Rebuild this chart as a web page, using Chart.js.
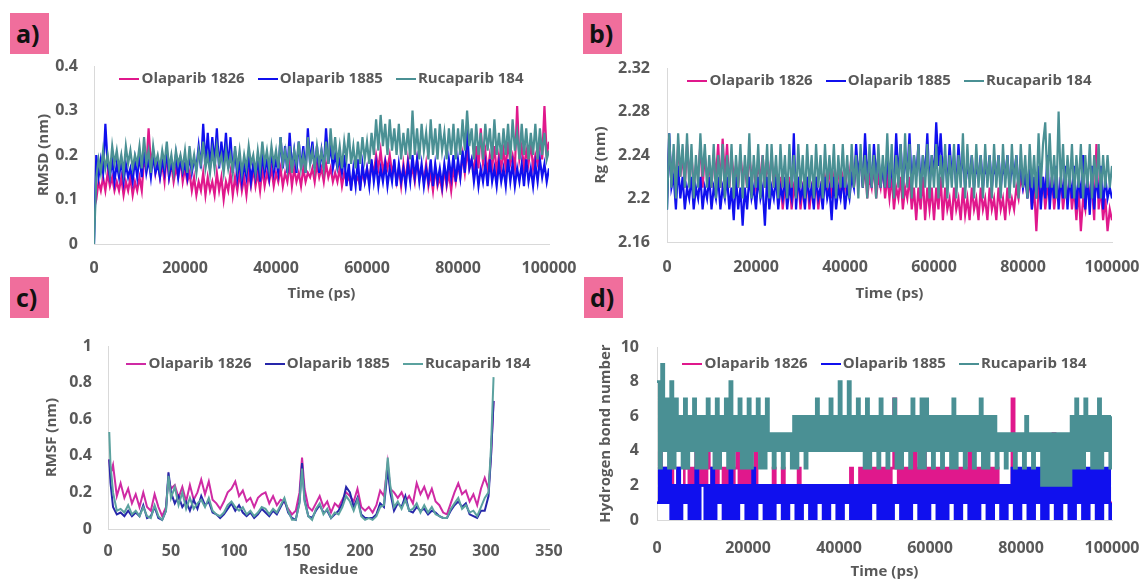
<!DOCTYPE html>
<html>
<head>
<meta charset="utf-8">
<script src="https://cdn.jsdelivr.net/npm/chart.js@4.4.1/dist/chart.umd.min.js"></script>
<style>
  body { margin: 0; width: 1141px; height: 579px; background: #fff; position: relative; overflow: hidden; font-family: 'Open Sans', sans-serif; }
  canvas { position: absolute; }
  .tag { position: absolute; width: 39px; height: 41px; background: #f06e9c; color: #111; font: bold 25px 'Open Sans', sans-serif; line-height: 40px; padding-left: 6px; box-sizing: border-box; }
  .legend { position: absolute; height: 20px; display: flex; justify-content: center; align-items: center; gap: 13px; font: bold 15px 'Open Sans', sans-serif; color: #595959; white-space: nowrap; }
  .legend .mk { display: inline-block; width: 20px; height: 2px; margin-right: 2px; vertical-align: middle; }
</style>
</head>
<body>
<div class="tag" style="left:10px;top:13px">a)</div>
<div class="tag" style="left:583px;top:13px">b)</div>
<div class="tag" style="left:10px;top:277px">c)</div>
<div class="tag" style="left:584px;top:277px">d)</div>
<canvas id="rmsdChart"></canvas>
<canvas id="rgChart"></canvas>
<canvas id="rmsfChart"></canvas>
<canvas id="hbondChart"></canvas>
<script>
// Nama seri (urutan legenda)
const seriesNames = ['Olaparib 1826', 'Olaparib 1885', 'Rucaparib 184'];

// Sampel waktu tiap 500 ps (0 - 100000 ps)
const sampleStepPs = 500;
const timeTickValues = [0, 20000, 40000, 60000, 80000, 100000];

// a) RMSD (nm)
const rmsdTicks = [0, 0.1, 0.2, 0.3, 0.4];
const rmsdOla1826 = [
  0.08, 0.10, 0.14, 0.12, 0.15, 0.12, 0.16, 0.13, 0.15, 0.12, 0.14, 0.12, 0.15, 0.11, 0.14, 0.12, 0.15, 0.11, 0.14, 0.12,
  0.15, 0.12, 0.19, 0.17, 0.26, 0.18, 0.21, 0.16, 0.19, 0.15, 0.18, 0.14, 0.20, 0.15, 0.18, 0.14, 0.17, 0.15, 0.19, 0.14,
  0.17, 0.14, 0.16, 0.12, 0.15, 0.11, 0.14, 0.12, 0.16, 0.11, 0.15, 0.12, 0.14, 0.11, 0.16, 0.12, 0.15, 0.10, 0.14, 0.12,
  0.16, 0.11, 0.15, 0.12, 0.16, 0.12, 0.15, 0.11, 0.16, 0.13, 0.17, 0.13, 0.16, 0.12, 0.17, 0.13, 0.16, 0.14, 0.17, 0.13,
  0.16, 0.14, 0.17, 0.13, 0.16, 0.14, 0.18, 0.13, 0.17, 0.14, 0.16, 0.13, 0.17, 0.14, 0.16, 0.15, 0.17, 0.14, 0.18, 0.15,
  0.17, 0.14, 0.18, 0.15, 0.17, 0.14, 0.16, 0.14, 0.17, 0.13, 0.16, 0.14, 0.15, 0.13, 0.16, 0.14, 0.15, 0.13, 0.16, 0.14,
  0.17, 0.14, 0.18, 0.16, 0.20, 0.17, 0.21, 0.16, 0.19, 0.17, 0.20, 0.16, 0.18, 0.14, 0.17, 0.13, 0.18, 0.14, 0.19, 0.15,
  0.17, 0.14, 0.19, 0.15, 0.17, 0.14, 0.18, 0.13, 0.16, 0.12, 0.17, 0.13, 0.15, 0.12, 0.17, 0.13, 0.16, 0.12, 0.17, 0.14,
  0.18, 0.15, 0.20, 0.16, 0.21, 0.17, 0.19, 0.16, 0.22, 0.17, 0.26, 0.18, 0.21, 0.16, 0.20, 0.17, 0.22, 0.16, 0.20, 0.17,
  0.21, 0.17, 0.23, 0.18, 0.20, 0.17, 0.31, 0.19, 0.22, 0.17, 0.21, 0.18, 0.23, 0.17, 0.20, 0.18, 0.24, 0.19, 0.31, 0.20,
  0.23
];
const rmsdOla1885 = [
  0.00, 0.20, 0.15, 0.19, 0.16, 0.27, 0.18, 0.15, 0.19, 0.14, 0.18, 0.15, 0.19, 0.14, 0.18, 0.15, 0.17, 0.14, 0.19, 0.15,
  0.20, 0.15, 0.21, 0.16, 0.19, 0.15, 0.20, 0.16, 0.18, 0.15, 0.19, 0.16, 0.21, 0.15, 0.18, 0.16, 0.20, 0.15, 0.19, 0.16,
  0.18, 0.15, 0.20, 0.16, 0.19, 0.17, 0.22, 0.17, 0.27, 0.18, 0.25, 0.17, 0.24, 0.18, 0.26, 0.17, 0.23, 0.18, 0.25, 0.17,
  0.24, 0.16, 0.21, 0.15, 0.19, 0.14, 0.18, 0.15, 0.20, 0.14, 0.18, 0.15, 0.19, 0.14, 0.20, 0.16, 0.19, 0.15, 0.21, 0.16,
  0.19, 0.16, 0.24, 0.17, 0.22, 0.16, 0.25, 0.17, 0.21, 0.16, 0.23, 0.17, 0.22, 0.16, 0.26, 0.18, 0.23, 0.17, 0.22, 0.16,
  0.21, 0.17, 0.26, 0.18, 0.22, 0.17, 0.20, 0.17, 0.19, 0.16, 0.20, 0.13, 0.18, 0.12, 0.17, 0.13, 0.19, 0.12, 0.18, 0.14,
  0.17, 0.13, 0.19, 0.14, 0.18, 0.13, 0.17, 0.14, 0.18, 0.13, 0.17, 0.14, 0.19, 0.13, 0.18, 0.14, 0.17, 0.13, 0.18, 0.14,
  0.20, 0.15, 0.19, 0.14, 0.18, 0.13, 0.17, 0.14, 0.19, 0.13, 0.18, 0.14, 0.17, 0.13, 0.18, 0.14, 0.19, 0.15, 0.20, 0.14,
  0.19, 0.15, 0.21, 0.16, 0.26, 0.17, 0.19, 0.14, 0.18, 0.13, 0.17, 0.14, 0.18, 0.13, 0.19, 0.14, 0.17, 0.13, 0.18, 0.14,
  0.17, 0.13, 0.19, 0.14, 0.18, 0.13, 0.17, 0.14, 0.18, 0.13, 0.19, 0.14, 0.17, 0.13, 0.18, 0.14, 0.19, 0.15, 0.18, 0.14,
  0.17
];
const rmsdRuca184 = [
  0.00, 0.15, 0.19, 0.16, 0.21, 0.17, 0.20, 0.16, 0.22, 0.18, 0.21, 0.17, 0.20, 0.16, 0.22, 0.18, 0.21, 0.17, 0.20, 0.18,
  0.22, 0.17, 0.24, 0.18, 0.21, 0.16, 0.22, 0.18, 0.20, 0.17, 0.21, 0.18, 0.23, 0.17, 0.20, 0.16, 0.21, 0.18, 0.20, 0.17,
  0.21, 0.16, 0.22, 0.17, 0.20, 0.16, 0.21, 0.18, 0.23, 0.17, 0.20, 0.16, 0.21, 0.17, 0.22, 0.18, 0.20, 0.16, 0.21, 0.17,
  0.20, 0.16, 0.22, 0.17, 0.21, 0.16, 0.20, 0.17, 0.22, 0.18, 0.20, 0.16, 0.21, 0.17, 0.23, 0.18, 0.21, 0.17, 0.22, 0.18,
  0.21, 0.17, 0.24, 0.18, 0.21, 0.17, 0.22, 0.16, 0.21, 0.18, 0.23, 0.17, 0.20, 0.16, 0.24, 0.18, 0.21, 0.17, 0.22, 0.18,
  0.21, 0.17, 0.23, 0.18, 0.26, 0.19, 0.24, 0.18, 0.22, 0.17, 0.23, 0.19, 0.25, 0.18, 0.22, 0.17, 0.23, 0.18, 0.24, 0.19,
  0.23, 0.18, 0.25, 0.20, 0.28, 0.21, 0.29, 0.22, 0.27, 0.20, 0.28, 0.21, 0.26, 0.20, 0.27, 0.19, 0.25, 0.20, 0.26, 0.19,
  0.30, 0.20, 0.26, 0.19, 0.27, 0.21, 0.25, 0.19, 0.28, 0.20, 0.26, 0.19, 0.27, 0.21, 0.25, 0.19, 0.26, 0.20, 0.27, 0.19,
  0.26, 0.20, 0.28, 0.21, 0.30, 0.22, 0.26, 0.19, 0.27, 0.20, 0.25, 0.19, 0.27, 0.21, 0.26, 0.19, 0.28, 0.20, 0.25, 0.19,
  0.26, 0.20, 0.27, 0.19, 0.28, 0.21, 0.25, 0.19, 0.27, 0.20, 0.26, 0.19, 0.25, 0.20, 0.27, 0.19, 0.26, 0.20, 0.25, 0.19,
  0.21
];

// b) Rg (nm)
const rgTicks = [2.16, 2.2, 2.24, 2.28, 2.32];
const rgOla1826 = [
  2.20, 2.25, 2.22, 2.24, 2.21, 2.25, 2.22, 2.24, 2.21, 2.25, 2.22, 2.24, 2.21, 2.23, 2.22, 2.25, 2.21, 2.24, 2.22, 2.23,
  2.21, 2.24, 2.22, 2.25, 2.21, 2.255, 2.22, 2.25, 2.21, 2.24, 2.22, 2.23, 2.21, 2.24, 2.22, 2.23, 2.21, 2.24, 2.22, 2.23,
  2.21, 2.23, 2.22, 2.24, 2.21, 2.23, 2.22, 2.24, 2.21, 2.23, 2.20, 2.22, 2.19, 2.21, 2.20, 2.22, 2.19, 2.21, 2.20, 2.22,
  2.19, 2.21, 2.20, 2.22, 2.19, 2.21, 2.20, 2.22, 2.19, 2.21, 2.20, 2.22, 2.21, 2.23, 2.20, 2.22, 2.21, 2.23, 2.20, 2.22,
  2.21, 2.23, 2.22, 2.24, 2.21, 2.23, 2.22, 2.24, 2.21, 2.23, 2.20, 2.22, 2.21, 2.23, 2.20, 2.22, 2.21, 2.23, 2.20, 2.22,
  2.20, 2.22, 2.19, 2.21, 2.20, 2.22, 2.19, 2.21, 2.20, 2.22, 2.19, 2.21, 2.18, 2.21, 2.19, 2.22, 2.18, 2.21, 2.19, 2.21,
  2.18, 2.21, 2.19, 2.22, 2.18, 2.21, 2.19, 2.20, 2.18, 2.21, 2.19, 2.20, 2.18, 2.21, 2.185, 2.20, 2.18, 2.21, 2.19, 2.20,
  2.18, 2.21, 2.19, 2.20, 2.18, 2.21, 2.19, 2.20, 2.18, 2.21, 2.19, 2.20, 2.18, 2.21, 2.19, 2.20, 2.19, 2.21, 2.20, 2.22,
  2.21, 2.23, 2.20, 2.22, 2.19, 2.21, 2.17, 2.21, 2.20, 2.22, 2.19, 2.21, 2.20, 2.22, 2.19, 2.21, 2.20, 2.22, 2.19, 2.21,
  2.20, 2.22, 2.19, 2.21, 2.18, 2.21, 2.17, 2.20, 2.19, 2.22, 2.20, 2.21, 2.18, 2.25, 2.19, 2.21, 2.18, 2.20, 2.17, 2.19,
  2.18
];
const rgOla1885 = [
  2.19, 2.26, 2.21, 2.22, 2.19, 2.23, 2.20, 2.22, 2.19, 2.21, 2.20, 2.22, 2.19, 2.21, 2.20, 2.22, 2.19, 2.21, 2.20, 2.22,
  2.19, 2.21, 2.20, 2.22, 2.19, 2.21, 2.20, 2.22, 2.19, 2.21, 2.18, 2.22, 2.19, 2.21, 2.175, 2.21, 2.19, 2.22, 2.20, 2.21,
  2.19, 2.22, 2.20, 2.21, 2.175, 2.22, 2.19, 2.21, 2.20, 2.22, 2.19, 2.21, 2.20, 2.22, 2.19, 2.21, 2.20, 2.26, 2.19, 2.22,
  2.20, 2.21, 2.19, 2.22, 2.20, 2.21, 2.19, 2.22, 2.20, 2.21, 2.19, 2.22, 2.20, 2.21, 2.18, 2.22, 2.19, 2.21, 2.20, 2.22,
  2.19, 2.21, 2.20, 2.22, 2.21, 2.25, 2.22, 2.24, 2.21, 2.26, 2.22, 2.24, 2.21, 2.25, 2.22, 2.24, 2.21, 2.23, 2.21, 2.24,
  2.21, 2.23, 2.21, 2.26, 2.22, 2.25, 2.21, 2.24, 2.22, 2.26, 2.21, 2.24, 2.22, 2.25, 2.21, 2.24, 2.22, 2.26, 2.21, 2.24,
  2.22, 2.27, 2.23, 2.26, 2.22, 2.24, 2.21, 2.25, 2.22, 2.24, 2.21, 2.25, 2.22, 2.24, 2.21, 2.23, 2.22, 2.24, 2.21, 2.23,
  2.22, 2.24, 2.21, 2.23, 2.22, 2.24, 2.21, 2.23, 2.22, 2.24, 2.21, 2.23, 2.22, 2.24, 2.21, 2.23, 2.22, 2.24, 2.21, 2.23,
  2.21, 2.22, 2.20, 2.23, 2.19, 2.22, 2.20, 2.23, 2.19, 2.22, 2.20, 2.24, 2.19, 2.22, 2.20, 2.23, 2.19, 2.22, 2.20, 2.23,
  2.19, 2.22, 2.20, 2.23, 2.19, 2.22, 2.20, 2.24, 2.19, 2.22, 2.185, 2.23, 2.19, 2.22, 2.20, 2.23, 2.19, 2.22, 2.20, 2.21,
  2.20
];
const rgRuca184 = [
  2.19, 2.26, 2.21, 2.25, 2.20, 2.26, 2.22, 2.25, 2.21, 2.26, 2.21, 2.25, 2.20, 2.24, 2.21, 2.26, 2.22, 2.25, 2.21, 2.24,
  2.21, 2.25, 2.20, 2.24, 2.21, 2.25, 2.20, 2.24, 2.21, 2.25, 2.20, 2.24, 2.21, 2.25, 2.20, 2.24, 2.21, 2.26, 2.20, 2.24,
  2.21, 2.25, 2.20, 2.24, 2.21, 2.25, 2.20, 2.25, 2.21, 2.24, 2.20, 2.25, 2.21, 2.24, 2.20, 2.25, 2.21, 2.24, 2.20, 2.25,
  2.21, 2.24, 2.20, 2.25, 2.21, 2.24, 2.20, 2.25, 2.21, 2.24, 2.20, 2.25, 2.21, 2.24, 2.21, 2.25, 2.20, 2.24, 2.21, 2.25,
  2.21, 2.24, 2.20, 2.25, 2.21, 2.24, 2.20, 2.25, 2.21, 2.24, 2.20, 2.25, 2.21, 2.24, 2.20, 2.25, 2.21, 2.24, 2.21, 2.26,
  2.21, 2.25, 2.20, 2.24, 2.21, 2.25, 2.20, 2.26, 2.21, 2.25, 2.20, 2.24, 2.21, 2.25, 2.20, 2.24, 2.21, 2.25, 2.20, 2.24,
  2.21, 2.25, 2.20, 2.24, 2.21, 2.25, 2.20, 2.24, 2.21, 2.25, 2.20, 2.24, 2.21, 2.26, 2.20, 2.25, 2.21, 2.24, 2.20, 2.25,
  2.21, 2.24, 2.20, 2.25, 2.21, 2.24, 2.20, 2.25, 2.21, 2.24, 2.20, 2.25, 2.21, 2.24, 2.20, 2.25, 2.21, 2.24, 2.20, 2.25,
  2.21, 2.24, 2.20, 2.25, 2.21, 2.24, 2.20, 2.26, 2.21, 2.25, 2.27, 2.21, 2.26, 2.21, 2.24, 2.20, 2.28, 2.21, 2.25, 2.20,
  2.24, 2.21, 2.25, 2.20, 2.24, 2.21, 2.25, 2.20, 2.24, 2.21, 2.25, 2.20, 2.24, 2.21, 2.25, 2.20, 2.24, 2.21, 2.24, 2.21,
  2.23
];

// c) RMSF (nm) per residu
const rmsfTicks = [0, 0.2, 0.4, 0.6, 0.8, 1];
const residueTicks = [0, 50, 100, 150, 200, 250, 300, 350];
const residues = [
  1, 2, 4, 7, 10, 13, 16, 19, 22, 25,
  28, 31, 34, 37, 40, 43, 46, 48, 50, 53,
  56, 59, 62, 65, 68, 71, 74, 77, 80, 83,
  86, 89, 92, 95, 98, 101, 104, 107, 110, 113,
  116, 119, 122, 125, 128, 131, 134, 137, 140, 143,
  146, 149, 152, 154, 156, 159, 162, 165, 168, 171,
  174, 177, 180, 183, 186, 189, 192, 195, 198, 201,
  204, 207, 210, 213, 216, 219, 222, 224, 227, 230,
  233, 236, 239, 242, 245, 248, 251, 254, 257, 260,
  263, 266, 269, 272, 275, 278, 281, 284, 287, 290,
  293, 296, 299, 302, 304, 306
];
const rmsfOla1826 = [
  0.38, 0.30, 0.35, 0.18, 0.25, 0.17, 0.22, 0.14, 0.19, 0.12,
  0.20, 0.12, 0.10, 0.19, 0.12, 0.07, 0.12, 0.28, 0.22, 0.24,
  0.17, 0.23, 0.15, 0.24, 0.16, 0.20, 0.27, 0.19, 0.26, 0.16,
  0.14, 0.11, 0.15, 0.20, 0.22, 0.26, 0.18, 0.21, 0.15, 0.17,
  0.12, 0.17, 0.19, 0.20, 0.14, 0.18, 0.13, 0.16, 0.15, 0.11,
  0.08, 0.10, 0.20, 0.39, 0.22, 0.12, 0.10, 0.14, 0.18, 0.12,
  0.15, 0.09, 0.14, 0.12, 0.16, 0.20, 0.18, 0.15, 0.22, 0.12,
  0.10, 0.12, 0.09, 0.13, 0.21, 0.18, 0.36, 0.22, 0.20, 0.17,
  0.20, 0.15, 0.18, 0.14, 0.25, 0.19, 0.23, 0.17, 0.22, 0.15,
  0.13, 0.09, 0.08, 0.14, 0.20, 0.25, 0.19, 0.21, 0.15, 0.19,
  0.13, 0.22, 0.28, 0.22, 0.40, 0.70
];
const rmsfOla1885 = [
  0.38, 0.25, 0.12, 0.08, 0.09, 0.07, 0.10, 0.07, 0.09, 0.07,
  0.13, 0.06, 0.07, 0.12, 0.06, 0.05, 0.10, 0.31, 0.20, 0.14,
  0.18, 0.12, 0.15, 0.10, 0.16, 0.11, 0.18, 0.13, 0.15, 0.09,
  0.08, 0.06, 0.08, 0.11, 0.14, 0.10, 0.13, 0.09, 0.07, 0.09,
  0.06, 0.08, 0.11, 0.09, 0.07, 0.10, 0.08, 0.12, 0.16, 0.09,
  0.06, 0.05, 0.15, 0.36, 0.16, 0.07, 0.06, 0.10, 0.13, 0.09,
  0.10, 0.06, 0.08, 0.10, 0.14, 0.23, 0.20, 0.12, 0.17, 0.08,
  0.06, 0.06, 0.06, 0.08, 0.14, 0.12, 0.33, 0.20, 0.10, 0.14,
  0.12, 0.18, 0.10, 0.09, 0.12, 0.10, 0.11, 0.08, 0.10, 0.09,
  0.07, 0.06, 0.06, 0.10, 0.13, 0.15, 0.12, 0.14, 0.08, 0.07,
  0.06, 0.10, 0.10, 0.18, 0.40, 0.70
];
const rmsfRuca184 = [
  0.53, 0.35, 0.20, 0.10, 0.11, 0.09, 0.13, 0.08, 0.10, 0.07,
  0.12, 0.07, 0.06, 0.13, 0.07, 0.05, 0.10, 0.29, 0.17, 0.23,
  0.13, 0.20, 0.11, 0.17, 0.11, 0.14, 0.16, 0.12, 0.17, 0.10,
  0.08, 0.07, 0.09, 0.13, 0.15, 0.12, 0.10, 0.12, 0.08, 0.10,
  0.07, 0.09, 0.12, 0.11, 0.08, 0.11, 0.09, 0.13, 0.17, 0.10,
  0.05, 0.05, 0.14, 0.33, 0.15, 0.07, 0.05, 0.11, 0.14, 0.08,
  0.11, 0.06, 0.09, 0.08, 0.12, 0.18, 0.15, 0.10, 0.16, 0.07,
  0.05, 0.06, 0.05, 0.07, 0.12, 0.13, 0.39, 0.24, 0.12, 0.15,
  0.11, 0.16, 0.10, 0.11, 0.14, 0.09, 0.13, 0.09, 0.12, 0.08,
  0.07, 0.06, 0.06, 0.11, 0.14, 0.17, 0.11, 0.13, 0.09, 0.10,
  0.07, 0.12, 0.17, 0.20, 0.45, 0.83
];

// d) Jumlah ikatan hidrogen
const hbondTicks = [0, 2, 4, 6, 8, 10];
const hbondOla1826 = [
  1, 4, 2, 3, 1, 2, 3, 1, 2, 3, 1, 2, 4, 3, 2, 3, 2, 4, 3, 2,
  3, 2, 4, 3, 2, 3, 2, 4, 3, 2, 3, 2, 3, 2, 3, 4, 2, 3, 2, 3,
  2, 3, 2, 4, 2, 1, 2, 1, 2, 1, 2, 3, 2, 1, 2, 3, 2, 1, 2, 1,
  2, 1, 3, 1, 2, 1, 2, 1, 2, 1, 2, 1, 2, 1, 2, 1, 2, 1, 2, 1,
  2, 1, 2, 1, 2, 3, 2, 1, 2, 3, 2, 3, 2, 3, 2, 3, 2, 3, 2, 3,
  2, 3, 2, 3, 7, 3, 2, 3, 2, 3, 2, 3, 2, 4, 2, 3, 2, 4, 2, 3,
  2, 3, 2, 3, 2, 3, 2, 3, 2, 3, 2, 3, 2, 3, 2, 3, 2, 4, 2, 3,
  2, 3, 2, 3, 2, 3, 2, 3, 2, 3, 1, 2, 1, 2, 1, 2, 7, 2, 1, 2,
  2, 1, 2, 1, 2, 1, 2, 1, 2, 1, 2, 1, 2, 1, 5, 1, 2, 1, 2, 1,
  2, 1, 2, 1, 2, 1, 2, 1, 2, 1, 2, 1, 2, 1, 4, 1, 2, 1, 2, 1,
  1
];
const hbondOla1885 = [
  1, 3, 1, 3, 1, 3, 0, 2, 0, 3, 0, 2, 1, 2, 0, 2, 0, 3, 0, 2,
  2, 0, 2, 0, 3, 0, 2, 1, 2, 0, 2, 0, 3, 0, 2, 0, 2, 1, 2, 0,
  2, 0, 3, 0, 2, 1, 2, 0, 2, 0, 2, 0, 2, 1, 2, 0, 2, 0, 2, 1,
  2, 0, 2, 0, 2, 1, 2, 0, 2, 0, 2, 1, 2, 0, 2, 0, 2, 1, 2, 0,
  2, 0, 2, 1, 2, 0, 2, 0, 2, 0, 2, 0, 2, 0, 2, 1, 2, 0, 2, 0,
  2, 0, 2, 0, 2, 1, 2, 0, 2, 0, 2, 0, 2, 1, 2, 0, 2, 0, 2, 0,
  2, 1, 2, 0, 2, 0, 2, 0, 2, 1, 2, 0, 2, 0, 2, 1, 2, 0, 2, 0,
  2, 0, 2, 1, 2, 0, 2, 0, 2, 1, 2, 0, 2, 0, 2, 1, 3, 0, 3, 0,
  3, 1, 3, 0, 3, 0, 3, 1, 3, 0, 3, 0, 3, 1, 3, 0, 3, 0, 3, 1,
  3, 0, 3, 0, 3, 1, 3, 0, 3, 0, 3, 1, 3, 0, 3, 0, 3, 1, 3, 0,
  1
];
const hbondRuca184 = [
  8, 3, 9, 4, 7, 3, 8, 3, 7, 4, 6, 3, 7, 3, 6, 4, 7, 3, 6, 3,
  6, 3, 7, 4, 6, 3, 7, 3, 6, 4, 7, 3, 8, 3, 6, 4, 7, 3, 6, 3,
  7, 3, 6, 4, 7, 3, 6, 3, 7, 4, 5, 3, 5, 4, 5, 3, 5, 4, 5, 3,
  6, 3, 6, 4, 6, 3, 6, 4, 6, 4, 7, 4, 6, 4, 6, 4, 7, 4, 6, 4,
  8, 4, 6, 4, 8, 4, 6, 4, 7, 4, 6, 3, 7, 3, 6, 4, 6, 3, 7, 4,
  6, 3, 6, 4, 7, 3, 6, 3, 6, 4, 6, 3, 7, 4, 6, 3, 7, 3, 7, 4,
  6, 3, 6, 4, 6, 3, 6, 4, 6, 3, 7, 3, 6, 4, 6, 3, 6, 4, 6, 3,
  6, 4, 7, 3, 6, 3, 6, 4, 6, 3, 5, 4, 5, 3, 5, 4, 5, 3, 5, 4,
  5, 3, 6, 4, 5, 3, 5, 4, 5, 2, 5, 2, 5, 2, 5, 2, 5, 2, 5, 2,
  5, 2, 6, 3, 7, 3, 6, 3, 7, 4, 6, 3, 6, 3, 7, 3, 6, 4, 6, 3,
  6
];

const timePs = rmsdOla1826.map((_, i) => i * sampleStepPs);

// Warna
const axisColor = '#d9d9d9';
const textColor = '#595959';
const colorsBright = ['#e0188c', '#1010ee', '#4a9094'];
const colorsRmsf = ['#cf2aa4', '#2626aa', '#5ba29f'];
const fontTick = { family: "'Open Sans', sans-serif", size: 16, weight: 'bold' };
const fontTitle = { family: "'Open Sans', sans-serif", size: 15, weight: 'bold' };
const fmt = v => String(+Number(v).toFixed(2));

const panels = [
  { id: 'rmsdChart', left: 30, top: 51, w: 549, h: 252, padRight: 30, yW: 64, yTitlePad: 5, yTickPad: 16, xH: 59, xTickPad: 15,
    plot: [94, 549, 66], legendY: 77,
    xs: timePs, xTicks: timeTickValues, xMax: 100000, yTicks: rmsdTicks, yMin: 0, yMax: 0.4,
    xTitle: 'Time (ps)', yTitle: 'RMSD (nm)', series: [rmsdOla1826, rmsdOla1885, rmsdRuca184], colors: colorsBright, lw: 2.2 },
  { id: 'rgChart', left: 585, top: 53, w: 556, h: 250, padRight: 29, yW: 82, yTitlePad: 7, yTickPad: 17, xH: 61, xTickPad: 16,
    plot: [667, 1112, 68], legendY: 79,
    xs: timePs, xTicks: timeTickValues, xMax: 100000, yTicks: rgTicks, yMin: 2.16, yMax: 2.32,
    xTitle: 'Time (ps)', yTitle: 'Rg (nm)', series: [rgOla1826, rgOla1885, rgRuca184], colors: colorsBright, lw: 2.2 },
  { id: 'rmsfChart', left: 35, top: 331, w: 544, h: 248, padRight: 30, yW: 73, yTitlePad: 8, yTickPad: 16, xH: 50, xTickPad: 13,
    plot: [108, 549, 346], legendY: 362,
    xs: residues, xTicks: residueTicks, xMax: 350, yTicks: rmsfTicks, yMin: 0, yMax: 1,
    xTitle: 'Residue', yTitle: 'RMSF (nm)', series: [rmsfOla1826, rmsfOla1885, rmsfRuca184], colors: colorsRmsf, lw: 2 },
  { id: 'hbondChart', left: 590, top: 332, w: 551, h: 249, padRight: 29, yW: 67, yTitlePad: 7, yTickPad: 18, xH: 61, xTickPad: 19,
    plot: [657, 1112, 347], legendY: 362, stepped: true,
    xs: timePs, xTicks: timeTickValues, xMax: 100000, yTicks: hbondTicks, yMin: 0, yMax: 10,
    xTitle: 'Time (ps)', yTitle: 'Hydrogen bond number', series: [hbondOla1826, hbondOla1885, hbondRuca184], colors: colorsBright, lw: 2.6 }
];

panels.forEach(p => {
  const cv = document.getElementById(p.id);
  cv.width = p.w; cv.height = p.h;
  cv.style.left = p.left + 'px';
  cv.style.top = p.top + 'px';

  new Chart(cv, {
    type: 'line',
    data: {
      datasets: p.series.map((vals, i) => ({
        label: seriesNames[i],
        data: vals.map((y, k) => ({ x: p.xs[k], y })),
        borderColor: p.colors[i],
        backgroundColor: p.colors[i],
        borderWidth: p.lw,
        borderJoinStyle: 'miter',
        stepped: p.stepped || false,
        pointRadius: 0,
        fill: false,
        order: 2 - i // Rucaparib paling atas
      }))
    },
    options: {
      responsive: false,
      animation: false,
      events: [],
      layout: { padding: { top: 15, right: p.padRight, left: 0, bottom: 0 } },
      plugins: { legend: { display: false }, tooltip: { enabled: false } },
      scales: {
        x: {
          type: 'linear', min: 0, max: p.xMax,
          afterBuildTicks: s => { s.ticks = p.xTicks.map(v => ({ value: v })); },
          afterFit: s => { s.height = p.xH; s.paddingLeft = 0; s.paddingRight = 0; },
          grid: { display: false, drawTicks: false },
          border: { display: true, color: axisColor, width: 1 },
          ticks: { padding: p.xTickPad, color: textColor, font: fontTick, maxRotation: 0, autoSkip: false, callback: v => String(v) },
          title: { display: true, text: p.xTitle, color: textColor, font: fontTitle, padding: { top: 0, bottom: 0 } }
        },
        y: {
          type: 'linear', min: p.yMin, max: p.yMax,
          afterBuildTicks: s => { s.ticks = p.yTicks.map(v => ({ value: v })); },
          afterFit: s => { s.width = p.yW; s.paddingTop = 0; s.paddingBottom = 0; },
          grid: { display: false, drawTicks: false },
          border: { display: true, color: axisColor, width: 1 },
          ticks: { padding: p.yTickPad, color: textColor, font: fontTick, autoSkip: false, callback: fmt },
          title: { display: true, text: p.yTitle, color: textColor, font: fontTitle, padding: { top: p.yTitlePad, bottom: 0 } }
        }
      }
    }
  });

  // Legenda di dalam area plot
  const lg = document.createElement('div');
  lg.className = 'legend';
  lg.style.left = p.plot[0] + 'px';
  lg.style.width = (p.plot[1] - p.plot[0]) + 'px';
  lg.style.top = (p.legendY - 10) + 'px';
  seriesNames.forEach((name, i) => {
    const item = document.createElement('span');
    item.innerHTML = '<span class="mk" style="background:' + p.colors[i] + '"></span>' + name;
    lg.appendChild(item);
  });
  document.body.appendChild(lg);
});
</script>
</body>
</html>
